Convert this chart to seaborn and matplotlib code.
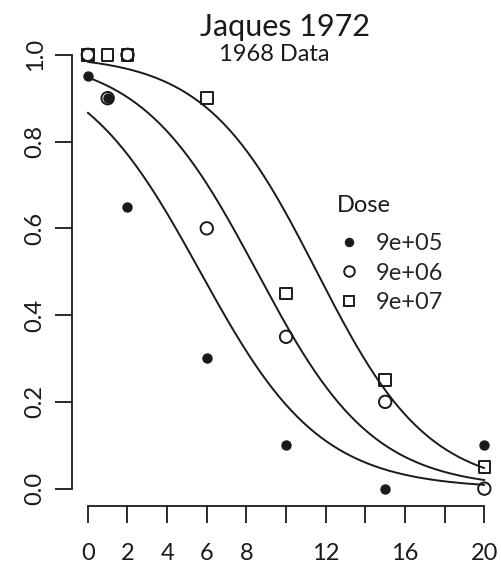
import numpy as np
import pandas as pd
import matplotlib
matplotlib.use("Agg")
import matplotlib.pyplot as plt
from matplotlib.lines import Line2D
import seaborn as sns

weeks = [0, 1, 2, 6, 10, 15, 20]
doses = ["9e+05", "9e+06", "9e+07"]
prop_9e05 = [0.95, 0.90, 0.65, 0.30, 0.10, 0.00, 0.10]
prop_9e06 = [1.00, 0.90, 1.00, 0.60, 0.35, 0.20, 0.00]
prop_9e07 = [1.00, 1.00, 1.00, 0.90, 0.45, 0.25, 0.05]

# fitted logistic curves (intercept, slope per week)
fit_intercept = [1.87, 2.90, 4.10]
fit_slope = [0.33, 0.34, 0.355]

x_ticks = [0, 2, 4, 6, 8, 10, 12, 14, 16, 18, 20]
x_labels = ["0", "2", "4", "6", "8", "", "12", "", "16", "", "20"]
y_ticks = [0.0, 0.2, 0.4, 0.6, 0.8, 1.0]

sns.set_style("ticks")
plt.rcParams["font.family"] = ["Lato", "DejaVu Sans"]
ink = "#1a1a1a"

df = pd.DataFrame({
    "week": weeks * 3,
    "prop": prop_9e05 + prop_9e06 + prop_9e07,
    "dose": sum([[d] * len(weeks) for d in doses], []),
})

grid = np.linspace(0, 20, 200)
curves = pd.DataFrame({
    "week": np.tile(grid, 3),
    "p": np.concatenate([1 / (1 + np.exp(-(a - b * grid))) for a, b in zip(fit_intercept, fit_slope)]),
    "dose": np.repeat(doses, len(grid)),
})

fig = plt.figure(figsize=(5.02, 5.70), dpi=100)
ax = fig.add_axes([0.1434, 0.1123, 0.853, 0.822])

for d in doses:
    sns.lineplot(data=curves[curves.dose == d], x="week", y="p", color=ink, lw=1.4, ax=ax)

styles = {
    "9e+05": dict(marker="o", s=42, facecolor=ink, edgecolor=ink, linewidth=1.0),
    "9e+06": dict(marker="o", s=80, facecolor="none", edgecolor=ink, linewidth=1.4),
    "9e+07": dict(marker="s", s=68, facecolor="none", edgecolor=ink, linewidth=1.4),
}
for d in doses:
    sub = df[df.dose == d]
    sns.scatterplot(x=sub.week, y=sub.prop, ax=ax, **styles[d])

ax.set_xlim(-0.8, 20.8)
ax.set_ylim(-0.04, 1.04)
ax.set_xticks(x_ticks)
ax.set_xticklabels(x_labels)
ax.set_yticks(y_ticks)
ax.set_yticklabels([f"{v:.1f}" for v in y_ticks], rotation=90, va="center")
ax.set_xlabel("")
ax.set_ylabel("")
ax.tick_params(length=12, width=1.3, labelsize=17, color=ink, labelcolor=ink)
ax.tick_params(axis="x", pad=15)
ax.tick_params(axis="y", pad=7)
sns.despine(ax=ax)
ax.spines["left"].set_bounds(0, 1)
ax.spines["bottom"].set_bounds(0, 20)
for sp in ["left", "bottom"]:
    ax.spines[sp].set_linewidth(1.3)
    ax.spines[sp].set_color(ink)

fig.text(0.568, 0.953, "Jaques 1972", ha="center", va="center", fontsize=22, color=ink)
fig.text(0.546, 0.905, "1968 Data", ha="center", va="center", fontsize=17, color=ink)

# legend: title drawn separately so the gap under it matches
fig.text(0.671, 0.640, "Dose", ha="left", va="center", fontsize=17, color=ink)
handles = [
    Line2D([], [], ls="none", marker="o", ms=5.8, mfc=ink, mec=ink),
    Line2D([], [], ls="none", marker="o", ms=7.6, mfc="none", mec=ink, mew=1.4),
    Line2D([], [], ls="none", marker="s", ms=7.0, mfc="none", mec=ink, mew=1.4),
]
ax.legend(handles, doses, loc="upper left", bbox_to_anchor=(0.62, 0.582),
          frameon=False, fontsize=17, handlelength=1.0,
          handletextpad=0.6, labelspacing=0.35, borderpad=0, borderaxespad=0)

fig.savefig("out.png", dpi=100)
